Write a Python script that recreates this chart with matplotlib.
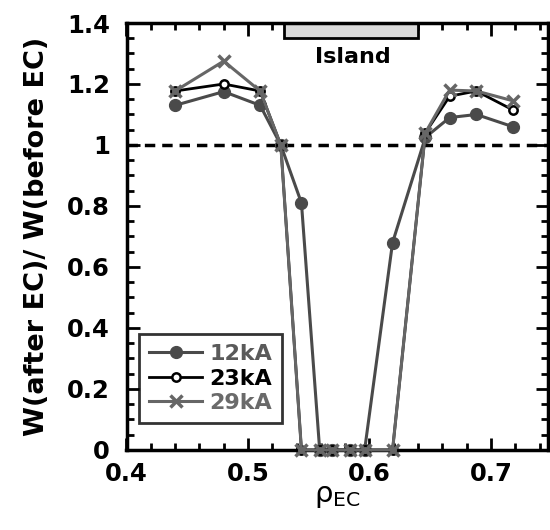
import matplotlib
matplotlib.use("Agg")
import matplotlib.pyplot as plt
from matplotlib.patches import Rectangle
from matplotlib.ticker import MultipleLocator, FixedLocator

plt.rcParams['font.family'] = ['DejaVu Sans']
plt.rcParams['font.weight'] = 'bold'
plt.rcParams['mathtext.fontset'] = 'dejavusans'

# Data
rho = [0.44, 0.48, 0.51, 0.527, 0.544, 0.559, 0.569, 0.584, 0.596, 0.619, 0.646, 0.666, 0.688, 0.718]
w12 = [1.13, 1.175, 1.13, 1.0, 0.81, 0, 0, 0, 0, 0.68, 1.025, 1.09, 1.10, 1.06]
w23 = [1.177, 1.20, 1.177, 1.0, 0, 0, 0, 0, 0, 0, 1.04, 1.16, 1.177, 1.115]
w29 = [1.177, 1.275, 1.177, 1.0, 0, 0, 0, 0, 0, 0, 1.04, 1.18, 1.177, 1.145]
labels = ['12kA', '23kA', '29kA']
island = (0.53, 0.64)
xticks = [0.4, 0.5, 0.6, 0.7]
yticks = [0, 0.2, 0.4, 0.6, 0.8, 1.0, 1.2, 1.4]
ytick_labels = ['0', '0.2', '0.4', '0.6', '0.8', '1', '1.2', '1.4']

fig = plt.figure(figsize=(5.5, 5.3), dpi=100)
ax = fig.add_axes([0.230, 0.151, 0.7665, 0.8056])

c12 = '#4a4a4a'
c23 = '#000000'
c29 = '#666666'

ax.plot(rho, w12, '-o', color=c12, lw=2.2, ms=8.5, mfc=c12, mec=c12, label=labels[0], clip_on=False, zorder=5)
ax.plot(rho, w23, '-o', color=c23, lw=2, ms=6, mfc='white', mec=c23, mew=1.8, label=labels[1], clip_on=False, zorder=6)
ax.plot(rho, w29, '-x', color=c29, lw=2.2, ms=9, mew=2.5, label=labels[2], clip_on=False, zorder=7)

ax.axhline(1.0, color='black', lw=2.5, ls=(0, (3, 2)), zorder=3)

ax.add_patch(Rectangle((island[0], 1.35), island[1] - island[0], 0.06, facecolor='#d9d9d9',
                       edgecolor='black', lw=2, zorder=2, clip_on=True))
ax.text(0.5865, 1.287, 'Island', ha='center', va='center', fontsize=16, fontweight='bold')

ax.set_xlim(0.4, 0.747)
ax.set_ylim(0, 1.4)
ax.xaxis.set_major_locator(FixedLocator(xticks))
ax.xaxis.set_minor_locator(MultipleLocator(0.02))
ax.set_yticks(yticks)
ax.set_yticklabels(ytick_labels)
ax.yaxis.set_minor_locator(MultipleLocator(0.05))
ax.tick_params(which='both', direction='in', top=True, right=True, width=2, labelsize=17.5)
ax.tick_params(which='major', length=9)
ax.tick_params(axis='y', which='major', pad=12)
ax.tick_params(axis='x', which='major', pad=9)
ax.tick_params(which='minor', length=5)
for lab in ax.get_xticklabels() + ax.get_yticklabels():
    lab.set_fontweight('bold')
for s in ax.spines.values():
    s.set_linewidth(2.5)

ax.set_xlabel(r'$\mathregular{\rho_{EC}}$', fontsize=21, labelpad=-3)
ax.set_ylabel('W(after EC)/ W(before EC)', fontsize=19.5, fontweight='bold', labelpad=12)

leg = ax.legend(loc='lower left', bbox_to_anchor=(0.03, 0.063), fontsize=16, frameon=True,
                fancybox=False, handlelength=2.4, borderpad=0.45, labelspacing=0.2, handletextpad=0.3,
                borderaxespad=0)
leg.get_frame().set_edgecolor('black')
leg.get_frame().set_linewidth(2)
for t, c in zip(leg.get_texts(), ['#5a5a5a', c23, '#6a6a6a']):
    t.set_color(c)
    t.set_fontweight('bold')

fig.savefig('out.png', dpi=100)
